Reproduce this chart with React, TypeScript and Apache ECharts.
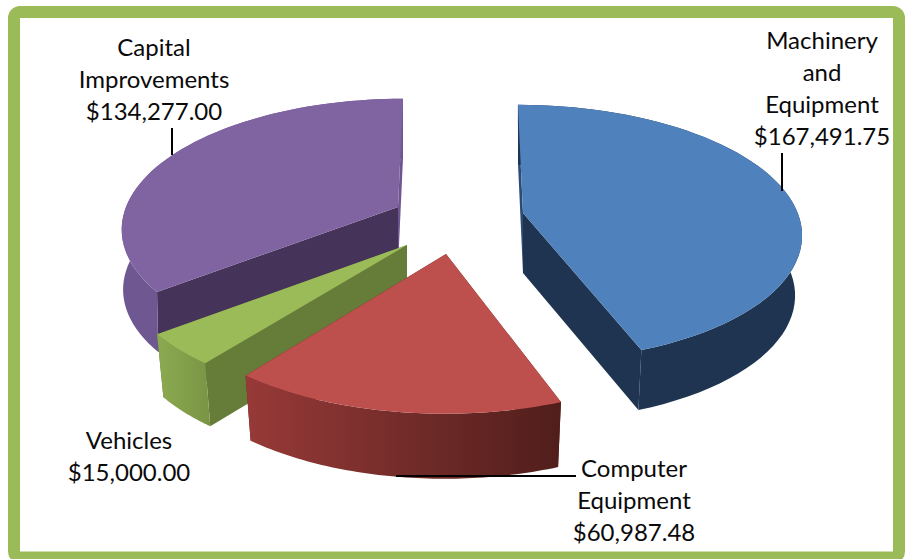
import React, { useEffect, useRef } from "react";
import * as echarts from "echarts";

const categories = ["Machinery\nand\nEquipment", "Computer\nEquipment", "Vehicles", "Capital\nImprovements"];
const values = [167491.75, 60987.48, 15000.0, 134277.0];

const topColors = ["#4F81BD", "#BD4F4C", "#9BBB59", "#8064A2"];
const startCutColors = ["#2C4B75", "#651F1C", "#667C39", "#46335A"];
const endCutColors = ["#1F3450", "#651F1C", "#667C39", "#6E5490"];
const wallStops = [
  ["#1F3450", "#1F3450"],
  ["#973A38", "#501E1B"],
  ["#8BAA50", "#7A9445"],
  ["#6F5891", "#6F5891"],
];

// Layout of each exploded slice: apex on screen and perspective enlargement.
const apexX = [523, 446, 407, 398];
const apexY = [213, 254, 245, 207];
const sliceScaleX = [1.01, 1.05, 1.04, 1];
const sliceScaleY = [1, 1.08, 1.05, 1];
const sliceDepth = [60, 65, 63, 60];
const bottomShrink = [0.975, 0.975, 0.975, 0.995];
const drawOrder = [3, 0, 2, 1];

const labelX = [822, 634, 129, 154];
const labelY = [23, 451, 423, 30];

const RX = 272;
const RY = 125;
const PERSPECTIVE = 0.155;
const VANISH_X = 460;
const CONVERGE = 0.6;
const STEPS = 60;

const total = values.reduce((a, b) => a + b, 0);
const money = (v: number) =>
  "$" + v.toLocaleString("en-US", { minimumFractionDigits: 2, maximumFractionDigits: 2 });

function angles(i: number) {
  let sum = 0;
  for (let k = 0; k < i; k++) sum += values[k];
  return [(sum / total) * Math.PI * 2, ((sum + values[i]) / total) * Math.PI * 2];
}

function topPoint(i: number, t: number): [number, number] {
  const s = 1 / (1 + PERSPECTIVE * Math.cos(t));
  const x = RX * Math.sin(t) * s * sliceScaleX[i] + CONVERGE * (apexX[i] - VANISH_X) * (s - 1);
  const y = -RY * Math.cos(t) * s * sliceScaleY[i];
  return [x, y];
}

function arc(i: number, a0: number, a1: number, bottom: boolean) {
  const pts: [number, number][] = [];
  for (let n = 0; n <= STEPS; n++) {
    const [x, y] = topPoint(i, a0 + ((a1 - a0) * n) / STEPS);
    pts.push(
      bottom
        ? [apexX[i] + x * bottomShrink[i], apexY[i] + y + sliceDepth[i]]
        : [apexX[i] + x, apexY[i] + y],
    );
  }
  return pts;
}

function renderSlice(_: any, api: any) {
  const i = drawOrder[api.value(0)];
  const [a0, a1] = angles(i);
  const ax = apexX[i];
  const ay = apexY[i];
  const apexTop: [number, number] = [ax, ay];
  const apexBottom: [number, number] = [ax, ay + sliceDepth[i]];
  const topArc = arc(i, a0, a1, false);
  const bottomArc = arc(i, a0, a1, true);
  const poly = (points: [number, number][], fill: any) => ({
    type: "polygon",
    shape: { points },
    style: { fill, stroke: null },
    silent: true,
  });
  const wallFill = {
    type: "linear",
    x: 0,
    y: 0,
    x2: 1,
    y2: 0,
    colorStops: [
      { offset: 0, color: wallStops[i][0] },
      { offset: 1, color: wallStops[i][1] },
    ],
  };
  return {
    type: "group",
    children: [
      poly([apexTop, topArc[0], bottomArc[0], apexBottom], startCutColors[i]),
      poly([apexTop, topArc[STEPS], bottomArc[STEPS], apexBottom], endCutColors[i]),
      poly([...topArc, ...[...bottomArc].reverse()], wallFill),
      poly([apexTop, ...topArc], topColors[i]),
    ],
  };
}

export default function App() {
  const ref = useRef<HTMLDivElement>(null);
  useEffect(() => {
    document.body.style.margin = "0";
    const chart = echarts.init(ref.current!, null, { renderer: "svg" });
    const black = "#0A0A0A";
    const leader = (x1: number, y1: number, x2: number, y2: number) => ({
      type: "line",
      z: 20,
      shape: { x1, y1, x2, y2 },
      style: { stroke: "#000000", lineWidth: 2 },
    });
    chart.setOption({
      animation: false,
      backgroundColor: "#FFFFFF",
      series: [
        {
          type: "custom",
          coordinateSystem: "none",
          renderItem: renderSlice,
          data: drawOrder.map((_, n) => [n]),
          silent: true,
          clip: false,
        },
      ],
      graphic: [
        {
          type: "rect",
          z: 30,
          shape: { x: 14, y: 12, width: 885, height: 545.5, r: 6 },
          style: { fill: "none", stroke: "#9BBB59", lineWidth: 12 },
        },
        leader(172, 128, 172, 155),
        leader(782, 153, 782, 191),
        leader(396, 476, 576, 476),
        ...categories.map((c, i) => ({
          type: "text",
          z: 25,
          x: labelX[i],
          y: labelY[i],
          style: {
            text: c + "\n" + money(values[i]),
            fill: black,
            font: '24px Lato, "Open Sans", sans-serif',
            lineHeight: 32,
            align: "center",
            verticalAlign: "top",
          },
        })),
      ],
    });
    return () => chart.dispose();
  }, []);
  return (
    <div
      ref={ref}
      style={{ position: "absolute", left: 0, top: 0, width: 909, height: 559, background: "#fff" }}
    />
  );
}
